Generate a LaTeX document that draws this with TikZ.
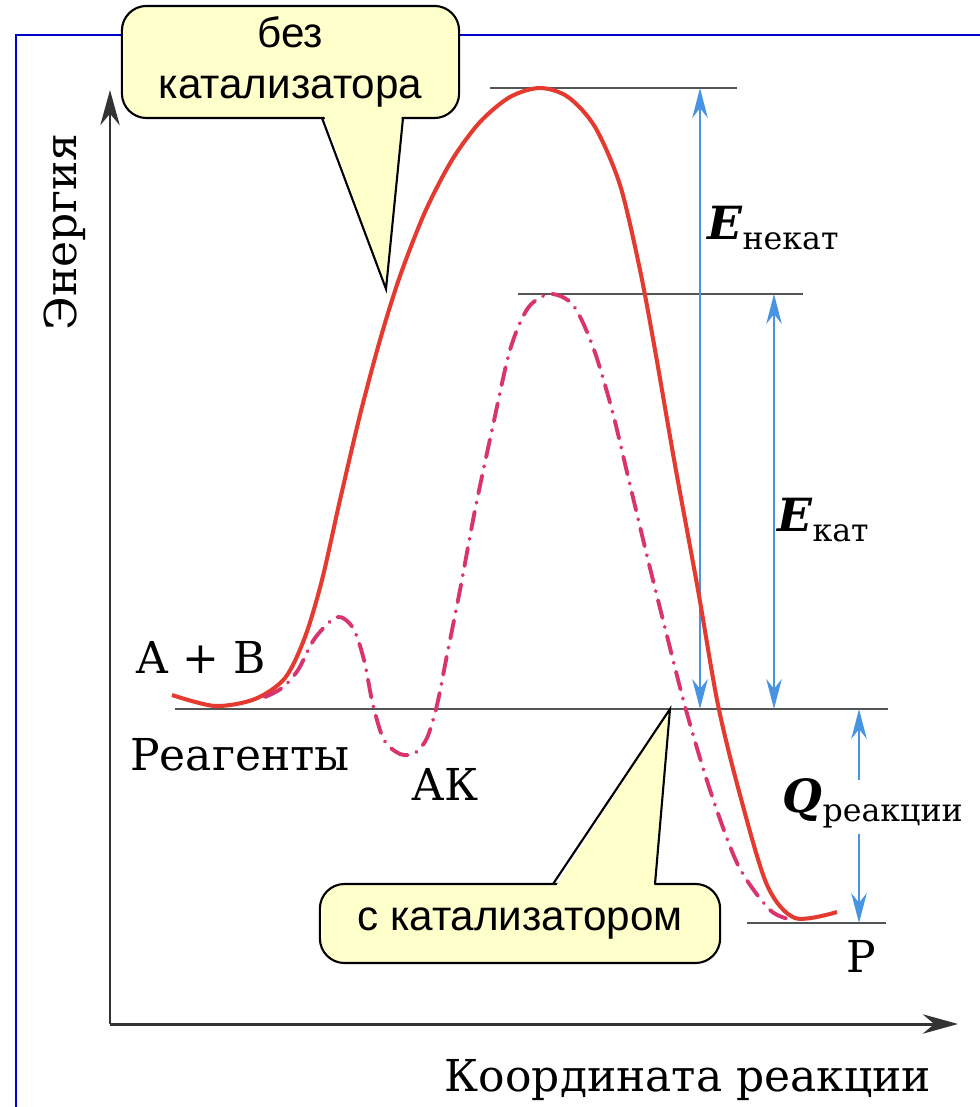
\documentclass[tikz,border=0pt]{standalone}
\usepackage{fontspec}
\setmainfont{DejaVu Serif}
\newfontfamily\calloutfont{Liberation Sans}
\usetikzlibrary{arrows.meta}

\definecolor{frameblue}{RGB}{0,0,205}
\definecolor{curvered}{RGB}{228,58,48}
\definecolor{catpink}{RGB}{218,52,112}
\definecolor{dimblue}{RGB}{72,148,226}
\definecolor{levelgray}{RGB}{85,85,85}
\definecolor{callfill}{RGB}{255,255,204}

\newcommand{\Elab}[1]{{\fontsize{13}{15}\selectfont\bfseries\itshape #1}}
\newcommand{\lowsub}[1]{\raisebox{-2.6pt}{\fontsize{9}{10}\selectfont #1}}

\tikzset{
  lvl/.style={levelgray, line width=0.45pt},
  dimline/.style={dimblue, line width=0.6pt},
  dimtip/.tip={Stealth[length=8.5pt,width=4.4pt]},
  axisline/.style={black!80, line width=0.85pt, -{Stealth[length=10pt,width=5.5pt]}},
  lab/.style={font=\fontsize{12.5}{15}\selectfont, inner sep=0pt},
  callbox/.style={draw, fill=callfill, line width=0.6pt, rounded corners=7pt,
    font=\calloutfont\fontsize{12}{14.5}\selectfont, align=center, inner sep=0pt},
}

\begin{document}
\begin{tikzpicture}[x=0.01cm,y=-0.01cm]
    \fill[white] (0,0) rectangle (980,1107);
    \useasboundingbox (0,0) rectangle (980,1107);
    \draw[frameblue, line width=0.6pt] (16,1107) -- (16,35) -- (980,35);

    \coordinate (origin) at (110,1024);
    \coordinate (ytip) at (110,90);
    \coordinate (xtip) at (958,1024);
    \draw[axisline] (origin) -- (ytip);
    \draw[axisline] (origin) -- (xtip);

    \coordinate (peakL) at (490,88);
    \coordinate (peakR) at (737,88);
    \coordinate (catL) at (518,294);
    \coordinate (catR) at (803,294);
    \coordinate (reacL) at (175,709);
    \coordinate (reacR) at (888,709);
    \coordinate (prodL) at (747,923);
    \coordinate (prodR) at (886,923);
    \draw[lvl] (peakL) -- (peakR);
    \draw[lvl] (catL) -- (catR);
    \draw[lvl] (reacL) -- (reacR);
    \draw[lvl] (prodL) -- (prodR);

    \coordinate (nkTop) at (700,88);
    \coordinate (nkBot) at (700,709);
    \coordinate (kTop) at (774,294);
    \coordinate (kBot) at (774,709);
    \coordinate (qTop) at (859,709);
    \coordinate (qUp) at (859,780);
    \coordinate (qDown) at (859,834);
    \coordinate (qBot) at (859,923);
    \draw[dimline, dimtip-dimtip] (nkTop) -- (nkBot);
    \draw[dimline, dimtip-dimtip] (kTop) -- (kBot);
    \draw[dimline, -dimtip] (qUp) -- (qTop);
    \draw[dimline, -dimtip] (qDown) -- (qBot);

    \draw[curvered, line width=1.15pt] plot[smooth, tension=0.5] coordinates {
        (172,695) (215,706) (255,699) (285,678) (305,637) (322,580) (340,500)
        (360,415) (380,340) (400,276) (425,212) (452,160) (480,122) (510,97)
        (540,88) (568,97) (595,127) (620,185) (640,270) (655,350) (675,465)
        (698,590) (718,705) (740,795) (767,885) (795,918) (837,912)};
    \draw[catpink, line width=1.1pt, line cap=round,
          dash pattern=on 5.2pt off 2.6pt on 0.1pt off 2.6pt] plot[smooth, tension=0.5] coordinates {
        (265,697) (282,688) (298,670) (315,638) (337,617) (353,628) (364,660)
        (373,705) (384,740) (400,754) (415,753) (427,738) (437,705) (447,655)
        (460,590) (475,510) (492,430) (510,350) (528,308) (550,294) (573,305)
        (593,347) (612,410) (630,485) (648,560) (666,632) (686,710) (710,790)
        (738,865) (770,910) (793,920)};

    \node[callbox, minimum width=3.37cm, minimum height=1.12cm] (callNo) at (290.5,62) {без\\катализатора};
    \coordinate (tipNo) at (386,289);
    \fill[callfill] (323,113) -- (tipNo) -- (402,113) -- cycle;
    \draw[line width=0.6pt] (322,118) -- (tipNo) -- (403,118);

    \node[callbox, minimum width=4cm, minimum height=0.79cm] (callCat) at (520,923.5) {с катализатором};
    \coordinate (tipCat) at (670,709);
    \fill[callfill] (554,889) -- (tipCat) -- (654,889) -- cycle;
    \draw[line width=0.6pt] (553,884) -- (tipCat) -- (655,884);

    \node[lab, rotate=90] (energy) at (65,232) {Энергия};
    \node[lab, anchor=base] (coord) at (688,1091) {Координата реакции};
    \node[lab, anchor=base] (ab) at (201,673) {A + B};
    \node[lab, anchor=base] (reag) at (240,770) {Реагенты};
    \node[lab, anchor=base] (ak) at (445,800) {АК};
    \node[lab, anchor=base] (prod) at (861,972) {Р};
    \node[anchor=base west, inner sep=0pt] (enekat) at (707,240) {\Elab{E}\lowsub{некат}};
    \node[anchor=base west, inner sep=0pt] (ekat) at (777,532) {\Elab{E}\lowsub{кат}};
    \node[anchor=base west, inner sep=0pt] (qreac) at (782,812) {\Elab{Q}\lowsub{реакции}};
\end{tikzpicture}
\end{document}
